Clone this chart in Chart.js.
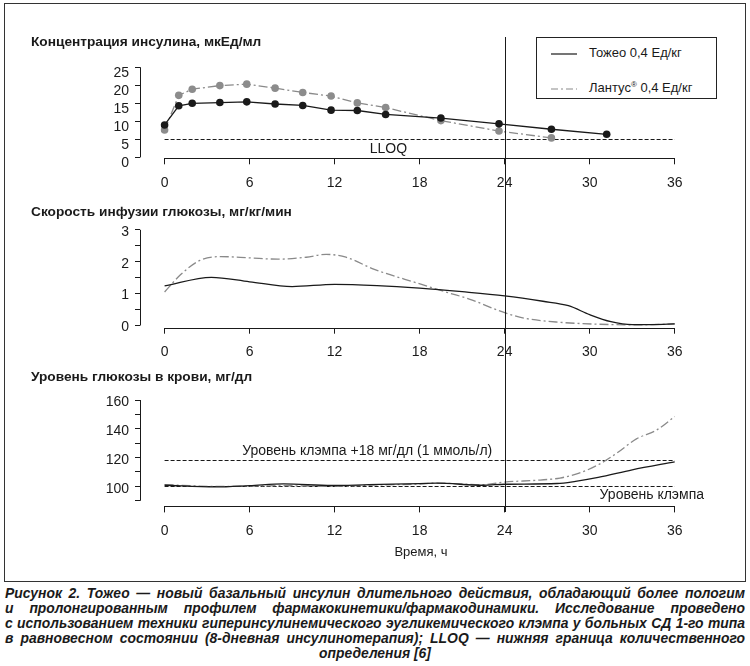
<!DOCTYPE html>
<html lang="ru">
<head>
<meta charset="UTF-8">
<title>Тожео и Лантус: инсулин, скорость инфузии глюкозы, глюкоза крови</title>
<script src="https://cdn.jsdelivr.net/npm/chart.js"></script>
<style>
  body { margin: 0; background: #fff; font-family: "Liberation Sans", Arial, sans-serif; color: #1a1a1a; }
  #page { position: relative; width: 750px; height: 666px; overflow: hidden; }
  .frame { position: absolute; left: 4px; top: 3px; width: 740px; height: 577px; border: 1px solid #333; }
  .panel { position: absolute; left: 0; width: 750px; }
  .ttl { position: absolute; left: 31px; font-weight: bold; font-size: 13.7px; line-height: 15px; white-space: nowrap; }
  .legend { position: absolute; left: 536px; top: 37px; width: 181px; height: 62px; box-sizing: border-box;
            border: 1px solid #222; background: #fff; }
  .legend .row { position: absolute; left: 14px; font-size: 13px; line-height: 15px; white-space: nowrap; }
  .legend svg { vertical-align: middle; margin-right: 12px; }
  .xlab { position: absolute; left: 371px; width: 100px; top: 544px; text-align: center; font-size: 13px; }
  .caption { position: absolute; left: 5px; width: 740px; top: 586px; font-weight: bold; font-style: italic;
             font-size: 13.9px; line-height: 15px; }
  .caption div { text-align: justify; text-align-last: justify; white-space: nowrap; }
  .caption div.last { text-align: center; text-align-last: center; }
</style>
</head>
<body>
<div id="page">
  <div class="frame"></div>

  <div class="panel" style="top:0;height:200px"><canvas id="insulinChart"></canvas></div>
  <div class="panel" style="top:200px;height:165px"><canvas id="girChart"></canvas></div>
  <div class="panel" style="top:365px;height:200px"><canvas id="glucoseChart"></canvas></div>

  <div class="ttl" style="top:34px">Концентрация инсулина, мкЕд/мл</div>
  <div class="ttl" style="top:204px">Скорость инфузии глюкозы, мг/кг/мин</div>
  <div class="ttl" style="top:369px">Уровень глюкозы в крови, мг/дл</div>

  <div class="legend">
    <div class="row" style="top:7px">
      <svg width="26" height="4"><line x1="0" y1="2" x2="26" y2="2" stroke="#1a1a1a" stroke-width="1.2"/></svg>Тожео 0,4 Ед/кг
    </div>
    <div class="row" style="top:39px">
      <svg width="26" height="4"><line x1="0" y1="2" x2="26" y2="2" stroke="#8a8a8a" stroke-width="1.2" stroke-dasharray="7,3,2,3"/></svg>Лантус<sup style="font-size:8px">®</sup> 0,4 Ед/кг
    </div>
  </div>

  <div class="xlab">Время, ч</div>

  <div class="caption">
    <div>Рисунок 2. Тожео — новый базальный инсулин длительного действия, обладающий более пологим</div>
    <div>и пролонгированным профилем фармакокинетики/фармакодинамики. Исследование проведено</div>
    <div>с использованием техники гиперинсулинемического эугликемического клэмпа у больных СД 1-го типа</div>
    <div>в равновесном состоянии (8-дневная инсулинотерапия); LLOQ — нижняя граница количественного</div>
    <div class="last">определения [6]</div>
  </div>
</div>

<script>
  // --- shared time axis (hours) ---
  const hourTicks = [0, 6, 12, 18, 24, 30, 36];
  const markHour = 24;

  // --- insulin concentration, мкЕд/мл ---
  const insulinTimes = [0, 1, 1.95, 3.9, 5.8, 7.8, 9.75, 11.75, 13.6, 15.6, 19.5, 23.6, 27.3, 31.2];
  const insulinToujeo = [9.0, 14.3, 15.0, 15.2, 15.4, 14.8, 14.4, 13.1, 13.0, 11.9, 10.9, 9.3, 7.8, 6.4];
  const insulinLantusTimes = [0, 1, 1.95, 3.9, 5.8, 7.8, 9.75, 11.75, 13.6, 15.6, 19.5, 23.6, 27.3];
  const insulinLantus = [7.6, 17.2, 18.9, 19.9, 20.3, 19.2, 18.0, 17.0, 15.1, 13.8, 10.2, 7.3, 5.4];
  const insulinTicks = [0, 5, 10, 15, 20, 25];
  const lloq = 5;

  // --- glucose infusion rate, мг/кг/мин ---
  const girToujeoTimes = [0, 3.3, 6, 9, 12, 15, 18, 21, 24, 26.7, 28.5, 30, 31.5, 33, 34.5, 36];
  const girToujeo = [1.24, 1.51, 1.37, 1.22, 1.29, 1.25, 1.17, 1.06, 0.93, 0.76, 0.62, 0.34, 0.12, 0.03, 0.03, 0.05];
  const girLantusTimes = [0, 1.1, 2.5, 4, 6, 8, 10, 11.4, 12.8, 14.8, 17.9, 20, 21.5, 24, 25.5, 27.9, 30.6, 33.3, 36];
  const girLantus = [1.05, 1.58, 2.04, 2.16, 2.12, 2.08, 2.14, 2.23, 2.14, 1.76, 1.32, 1.03, 0.83, 0.40, 0.22, 0.10, 0.04, 0.02, 0.05];
  const girTicks = [0, 0.5, 1, 1.5, 2, 2.5, 3];
  const girLabels = [0, 1, 2, 3];

  // --- blood glucose, мг/дл ---
  const glucoseToujeoTimes = [0, 3.6, 6, 8.4, 11.8, 14.4, 18, 19.2, 22.5, 24, 27.7, 29, 30.6, 33, 36];
  const glucoseToujeo = [100.8, 99.6, 100.5, 101.7, 100.6, 101.2, 101.9, 102.2, 100.8, 101.5, 102.0, 103.5, 106.2, 111.5, 117.1];
  const glucoseLantusTimes = [0, 3.6, 8.4, 11.8, 15, 18, 19.2, 22.5, 24, 26.5, 27.9, 29.2, 30.6, 31.9, 33.3, 34.7, 36];
  const glucoseLantus = [101.2, 100.0, 100.5, 100.0, 101.0, 101.6, 102.3, 101.2, 103.0, 104.4, 105.8, 109.0, 115.0, 123.0, 133.0, 139.0, 148.5];
  const glucoseTicks = [90, 100, 110, 120, 130, 140, 150, 160];
  const glucoseLabels = [100, 120, 140, 160];
  const clampLevel = 100;
  const clampPlus = 118;

  const INK = '#1a1a1a';
  const GREY = '#8a8a8a';
  const FONT = '"Liberation Sans", Arial, sans-serif';
  const X_MIN = -1.735, X_MAX = 37.08;

  function toPoints(xs, ys) {
    return xs.map((x, i) => ({ x: x, y: ys[i] }));
  }

  // R-style axes: lines only from first to last tick, plus the 24 h marker and reference lines
  const panelDecor = {
    id: 'panelDecor',
    beforeDatasetsDraw(chart, args, opts) {
      const ctx = chart.ctx, x = chart.scales.x, y = chart.scales.y;
      (opts.hlines || []).forEach(h => {
        const py = Math.round(y.getPixelForValue(h.value)) + 0.5;
        ctx.save();
        ctx.strokeStyle = INK;
        ctx.lineWidth = 1;
        ctx.setLineDash([4, 2]);
        ctx.beginPath();
        ctx.moveTo(x.getPixelForValue(hourTicks[0]), py);
        ctx.lineTo(x.getPixelForValue(hourTicks[hourTicks.length - 1]), py);
        ctx.stroke();
        ctx.restore();
        if (h.label) {
          ctx.save();
          ctx.fillStyle = INK;
          ctx.font = '14px ' + FONT;
          ctx.textAlign = h.align || 'center';
          ctx.textBaseline = 'middle';
          ctx.fillText(h.label, x.getPixelForValue(h.labelAt), py + h.dy);
          ctx.restore();
        }
      });
    },
    afterDraw(chart, args, opts) {
      const ctx = chart.ctx, x = chart.scales.x, y = chart.scales.y, area = chart.chartArea;
      const yt = y.ticks;
      ctx.save();
      ctx.strokeStyle = INK;
      ctx.lineWidth = 1;
      ctx.beginPath();
      const bx = Math.round(area.bottom) + 0.5;
      ctx.moveTo(x.getPixelForValue(hourTicks[0]), bx);
      ctx.lineTo(x.getPixelForValue(hourTicks[hourTicks.length - 1]), bx);
      const lx = Math.round(area.left) + 0.5;
      ctx.moveTo(lx, y.getPixelForValue(yt[0].value));
      ctx.lineTo(lx, y.getPixelForValue(yt[yt.length - 1].value));
      ctx.stroke();
      // 24 h marker, crossing the panels
      const mx = Math.round(x.getPixelForValue(markHour)) + 0.5;
      ctx.beginPath();
      ctx.moveTo(mx, opts.markTop);
      ctx.lineTo(mx, opts.markBottom === undefined ? chart.height : opts.markBottom);
      ctx.stroke();
      ctx.restore();
    }
  };

  function makePanel(id, cfg) {
    const labelled = cfg.labels;
    return new Chart(document.getElementById(id), {
      type: 'line',
      data: { datasets: cfg.datasets },
      options: {
        responsive: true,
        maintainAspectRatio: false,
        animation: false,
        layout: { padding: { top: cfg.padTop, right: 60, left: 0, bottom: 0 } },
        plugins: {
          legend: { display: false },
          tooltip: { enabled: false },
          panelDecor: { hlines: cfg.hlines, markTop: cfg.markTop, markBottom: cfg.markBottom }
        },
        scales: {
          x: {
            type: 'linear',
            min: X_MIN,
            max: X_MAX,
            afterBuildTicks: s => { s.ticks = hourTicks.map(v => ({ value: v })); },
            afterFit: s => { s.height = cfg.xAxisHeight; },
            grid: { drawOnChartArea: false, drawTicks: true, tickLength: 6, color: INK },
            border: { display: false },
            ticks: { autoSkip: false, maxRotation: 0, padding: 10, color: INK, font: { size: 14, family: FONT } }
          },
          y: {
            type: 'linear',
            min: cfg.yMin,
            max: cfg.yMax,
            afterBuildTicks: s => { s.ticks = cfg.yTicks.map(v => ({ value: v })); },
            afterFit: s => { s.width = 140; },
            grid: { drawOnChartArea: false, drawTicks: true, tickLength: 5, color: INK },
            border: { display: false },
            ticks: {
              autoSkip: false,
              padding: 6,
              labelOffset: cfg.labelOffset,
              color: INK,
              font: { size: 14, family: FONT },
              callback: v => labelled.includes(v) ? String(v) : ''
            }
          }
        }
      },
      plugins: [panelDecor]
    });
  }

  const toujeoLine = { borderColor: INK, borderWidth: 1.3 };
  const lantusLine = { borderColor: GREY, borderWidth: 1.3, borderDash: [9, 3, 2, 3] };

  makePanel('insulinChart', {
    padTop: 67.2, xAxisHeight: 41.7, yMin: -0.25, yMax: 25, yTicks: insulinTicks, labels: insulinTicks,
    labelOffset: 6, markTop: 37,
    hlines: [{ value: lloq, label: 'LLOQ', labelAt: 15.8, dy: 10, align: 'center' }],
    datasets: [
      Object.assign({ label: 'Тожео 0,4 Ед/кг', data: toPoints(insulinTimes, insulinToujeo), tension: 0,
        pointRadius: 3.8, pointBackgroundColor: INK, pointBorderColor: INK, pointBorderWidth: 0 }, toujeoLine),
      Object.assign({ label: 'Лантус® 0,4 Ед/кг', data: toPoints(insulinLantusTimes, insulinLantus), tension: 0,
        pointRadius: 3.8, pointBackgroundColor: '#8c8c8c', pointBorderColor: '#8c8c8c', pointBorderWidth: 0 }, lantusLine)
    ]
  });

  makePanel('girChart', {
    padTop: 29.8, xAxisHeight: 37.3, yMin: -0.069, yMax: 3, yTicks: girTicks, labels: girLabels,
    labelOffset: 2, markTop: 0,
    hlines: [],
    datasets: [
      Object.assign({ label: 'Тожео 0,4 Ед/кг', data: toPoints(girToujeoTimes, girToujeo),
        cubicInterpolationMode: 'monotone', pointRadius: 0 }, toujeoLine),
      Object.assign({ label: 'Лантус® 0,4 Ед/кг', data: toPoints(girLantusTimes, girLantus),
        cubicInterpolationMode: 'monotone', pointRadius: 0 }, lantusLine)
    ]
  });

  makePanel('glucoseChart', {
    padTop: 35, xAxisHeight: 58.6, yMin: 86.1, yMax: 160, yTicks: glucoseTicks, labels: glucoseLabels,
    labelOffset: 2.5, markTop: 0, markBottom: 147,
    hlines: [
      { value: clampPlus, label: 'Уровень клэмпа +18 мг/дл (1 ммоль/л)', labelAt: 14.3, dy: -9, align: 'center' },
      { value: clampLevel, label: 'Уровень клэмпа', labelAt: 30.7, dy: 9, align: 'left' }
    ],
    datasets: [
      Object.assign({ label: 'Тожео 0,4 Ед/кг', data: toPoints(glucoseToujeoTimes, glucoseToujeo),
        cubicInterpolationMode: 'monotone', pointRadius: 0 }, toujeoLine),
      Object.assign({ label: 'Лантус® 0,4 Ед/кг', data: toPoints(glucoseLantusTimes, glucoseLantus),
        cubicInterpolationMode: 'monotone', pointRadius: 0 }, lantusLine)
    ]
  });
</script>
</body>
</html>
